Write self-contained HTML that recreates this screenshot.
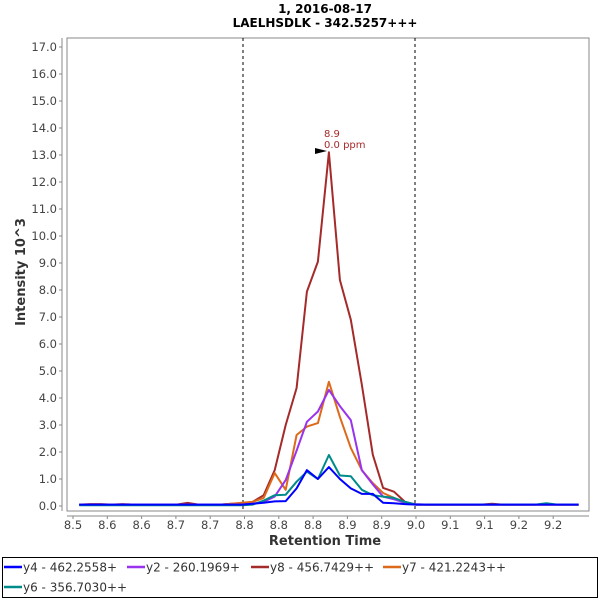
<!DOCTYPE html>
<html><head><meta charset="utf-8"><style>
body{margin:0;background:#fff;width:600px;height:600px;overflow:hidden;font-family:"DejaVu Sans","Liberation Sans",sans-serif}
</style></head><body>
<svg id="chart" width="600" height="600" xmlns="http://www.w3.org/2000/svg" font-family="DejaVu Sans, Liberation Sans, sans-serif">
<text x="325" y="13" text-anchor="middle" font-size="12" font-weight="bold" fill="#000">1, 2016-08-17</text>
<text x="325" y="27" text-anchor="middle" font-size="12" font-weight="bold" fill="#000">LAELHSDLK - 342.5257+++</text>
<rect x="67" y="38" width="522" height="473" fill="#fff" stroke="#888"/>
<g id="yaxis"></g>
<g id="xaxis"></g>
<text transform="translate(25,272) rotate(-90)" text-anchor="middle" font-size="13" font-weight="bold" fill="#333">Intensity 10^3</text>
<text x="325" y="545" text-anchor="middle" font-size="13" font-weight="bold" fill="#333">Retention Time</text>
<line x1="243" y1="38" x2="243" y2="511" stroke="#000" stroke-dasharray="3,3"/>
<line x1="415" y1="38" x2="415" y2="511" stroke="#000" stroke-dasharray="3,3"/>
<g id="series"></g>
<polygon points="315,148 327,151 315,154" fill="#000"/>
<text x="324" y="137" font-size="10" fill="#a52a2a">8.9</text>
<text x="324" y="148" font-size="10" fill="#a52a2a">0.0 ppm</text>
<rect x="2.5" y="557.5" width="595" height="40" fill="#fff" stroke="#000"/>
<g id="legend"></g>
</svg>
<script>
const yTicks=[0,1,2,3,4,5,6,7,8,9,10,11,12,13,14,15,16,17];
const xTickValues=[8.5,8.55,8.6,8.65,8.7,8.75,8.8,8.85,8.9,8.95,9.0,9.05,9.1,9.15,9.2];
const xTickLabels=["8.5","8.6","8.6","8.7","8.7","8.8","8.8","8.8","8.9","8.9","9.0","9.1","9.1","9.2","9.2"];
const times=[8.509,8.525,8.541,8.556,8.572,8.588,8.604,8.620,8.636,8.651,8.667,8.683,8.699,8.715,8.731,8.746,8.762,8.778,8.794,8.810,8.826,8.841,8.857,8.873,8.889,8.905,8.921,8.937,8.952,8.968,8.984,9.000,9.016,9.031,9.047,9.063,9.079,9.095,9.111,9.126,9.142,9.158,9.174,9.190,9.206,9.221,9.237];
const seriesNames=["y4 - 462.2558+","y2 - 260.1969+","y8 - 456.7429++","y7 - 421.2243++","y6 - 356.7030++"];
const seriesColors=["#0000ff","#9933ee","#a52a2a","#dd6a1a","#008b8b"];
const y4=[0.05,0.05,0.05,0.05,0.05,0.05,0.05,0.05,0.05,0.05,0.05,0.05,0.05,0.05,0.05,0.05,0.08,0.12,0.17,0.18,0.65,1.33,1.0,1.44,1.0,0.65,0.45,0.45,0.12,0.1,0.07,0.05,0.05,0.05,0.05,0.05,0.05,0.05,0.05,0.05,0.05,0.05,0.05,0.05,0.05,0.05,0.05];
const y2=[0.05,0.05,0.05,0.05,0.05,0.05,0.05,0.05,0.05,0.05,0.05,0.05,0.05,0.05,0.05,0.05,0.08,0.15,0.35,0.96,2.05,3.12,3.5,4.3,3.7,3.18,1.33,0.8,0.35,0.25,0.12,0.07,0.05,0.05,0.05,0.05,0.05,0.05,0.05,0.05,0.05,0.05,0.05,0.05,0.05,0.05,0.05];
const y8=[0.05,0.07,0.07,0.05,0.07,0.05,0.05,0.05,0.05,0.05,0.12,0.05,0.05,0.05,0.08,0.1,0.15,0.4,1.33,3.0,4.37,7.94,9.05,13.1,8.37,6.9,4.5,1.9,0.67,0.53,0.15,0.05,0.05,0.05,0.05,0.05,0.05,0.05,0.08,0.05,0.05,0.05,0.05,0.05,0.05,0.05,0.05];
const y7=[0.05,0.05,0.05,0.05,0.05,0.05,0.05,0.05,0.05,0.05,0.05,0.05,0.05,0.05,0.08,0.12,0.15,0.3,1.22,0.6,2.63,2.94,3.07,4.6,3.3,2.15,1.33,0.85,0.48,0.3,0.12,0.05,0.05,0.05,0.05,0.05,0.05,0.05,0.05,0.05,0.05,0.05,0.05,0.05,0.05,0.05,0.05];
const y6=[0.03,0.03,0.03,0.03,0.03,0.03,0.03,0.03,0.03,0.03,0.03,0.03,0.03,0.03,0.03,0.03,0.05,0.2,0.4,0.42,0.9,1.27,1.0,1.89,1.13,1.1,0.6,0.4,0.35,0.3,0.15,0.05,0.05,0.05,0.05,0.05,0.05,0.05,0.05,0.05,0.05,0.05,0.05,0.1,0.05,0.05,0.05];
const allSeries=[y4,y2,y8,y7,y6];
const NS="http://www.w3.org/2000/svg";
function xs(t){return 73+(t-8.5)/0.05*34.3;}
function ys(v){return 506-v*27;}
function mk(tag,attrs,parent){const e=document.createElementNS(NS,tag);for(const k in attrs)e.setAttribute(k,attrs[k]);parent.appendChild(e);return e;}
const ya=document.getElementById('yaxis');
mk('line',{x1:62,y1:38,x2:62,y2:511,stroke:'#888'},ya);
yTicks.forEach(v=>{
  mk('line',{x1:59,y1:ys(v),x2:62,y2:ys(v),stroke:'#888'},ya);
  const t=mk('text',{x:57,y:ys(v)+4,'text-anchor':'end','font-size':'11.5',fill:'#444'},ya);
  
  
  t.textContent=v.toFixed(1);
});
const xa=document.getElementById('xaxis');
mk('line',{x1:67,y1:516,x2:589,y2:516,stroke:'#888'},xa);
xTickValues.forEach((v,i)=>{
  mk('line',{x1:xs(v),y1:516,x2:xs(v),y2:519,stroke:'#888'},xa);
  const t=mk('text',{x:xs(v),y:529,'text-anchor':'middle','font-size':'11.5',fill:'#444'},xa);
  
  
  t.textContent=xTickLabels[i];
});
const sg=document.getElementById('series');
[2,3,1,4,0].forEach(si=>{
  const pts=allSeries[si].map((v,i)=>xs(times[i]).toFixed(1)+','+ys(v).toFixed(1)).join(' ');
  const p=mk('polyline',{points:pts,fill:'none',stroke:seriesColors[si],'stroke-width':'2','stroke-linejoin':'round'},sg);
  
  
});
const lg=document.getElementById('legend');
const lpos=[[4,567],[127,567],[251,567],[383,567],[4,587]];
seriesNames.forEach((n,i)=>{
  const [x,y]=lpos[i];
  const g=mk('g',{},lg);
  
  
  mk('line',{x1:x,y1:y,x2:x+18,y2:y,stroke:seriesColors[i],'stroke-width':'2.5'},g);
  const t=mk('text',{x:x+19,y:y+4.5,'font-size':'12',fill:'#333'},g);
  t.textContent=n;
});
</script>
</body></html>
